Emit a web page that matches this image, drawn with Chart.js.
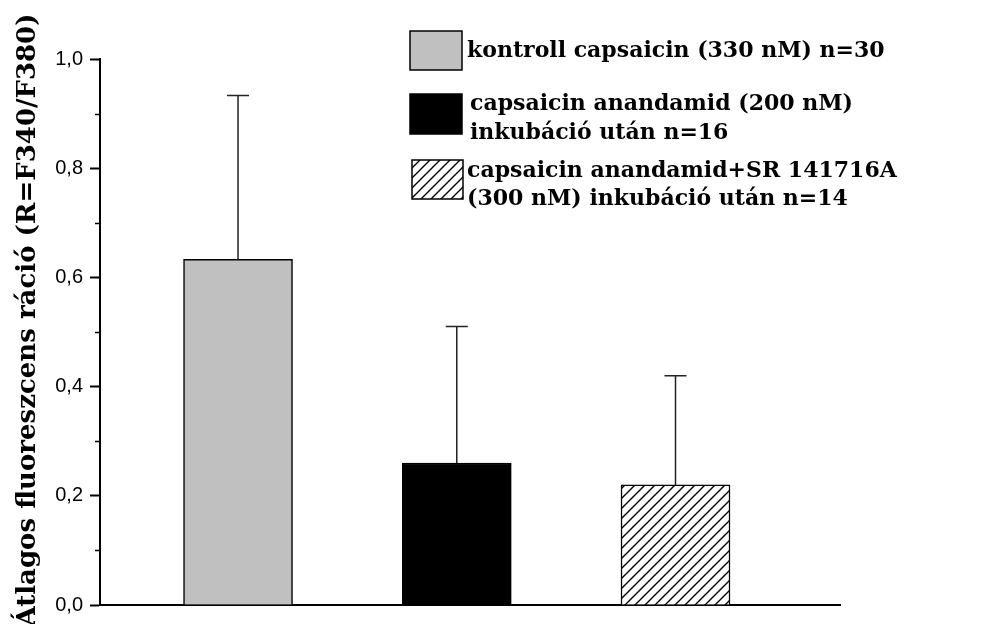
<!DOCTYPE html>
<html>
<head>
<meta charset="utf-8">
<script src="https://cdn.jsdelivr.net/npm/chart.js@4.4.1/dist/chart.umd.min.js"></script>
<style>
  html, body { margin: 0; padding: 0; background: #ffffff; }
  #wrap { width: 986px; height: 624px; }
</style>
</head>
<body>
<div id="wrap"><canvas id="c" width="986" height="624"></canvas></div>
<script>
// Groups (legend text, one entry per line of each label)
const groupLabels = [
  ['kontroll capsaicin (330 nM) n=30'],
  ['capsaicin anandamid (200 nM)', 'inkubáció után n=16'],
  ['capsaicin anandamid+SR 141716A', '(300 nM) inkubáció után n=14']
];
// Bar positions on the x axis
const groupPositions = [1, 2, 3];
// Mean fluorescence ratio and standard deviation (upper error bar)
const meanRatio = [0.633, 0.26, 0.22];
const sdRatio = [0.30, 0.25, 0.20];
// Y axis tick values and labels
const majorTicks = [0, 0.2, 0.4, 0.6, 0.8, 1.0];
const majorTickLabels = ['0,0', '0,2', '0,4', '0,6', '0,8', '1,0'];
const minorTicks = [0.1, 0.3, 0.5, 0.7, 0.9];
const yTitle = 'Átlagos fluoreszcens ráció (R=F340/F380)';

// Diagonal hatch fill for the third group
function makeHatch(step) {
  const p = document.createElement('canvas');
  p.width = step; p.height = step;
  const g = p.getContext('2d');
  g.fillStyle = '#ffffff';
  g.fillRect(0, 0, step, step);
  g.strokeStyle = '#000000';
  g.lineWidth = 1.4;
  g.beginPath();
  g.moveTo(-1, step + 1); g.lineTo(step + 1, -1);
  g.moveTo(-1, 1); g.lineTo(1, -1);
  g.moveTo(step - 1, step + 1); g.lineTo(step + 1, step - 1);
  g.stroke();
  return g.createPattern(p, 'repeat');
}
const ctx = document.getElementById('c').getContext('2d');
const hatch = makeHatch(10);
const fills = ['#c0c0c0', '#000000', hatch];

// Upper error bars with caps
const errorBars = {
  id: 'errorBars',
  afterDatasetsDraw(chart) {
    const meta = chart.getDatasetMeta(0);
    const ys = chart.scales.y;
    const c = chart.ctx;
    c.save();
    c.strokeStyle = '#222222';
    c.lineWidth = 1.5;
    meta.data.forEach((bar, i) => {
      const x = bar.x;
      const y0 = ys.getPixelForValue(meanRatio[i]);
      const y1 = ys.getPixelForValue(meanRatio[i] + sdRatio[i]);
      c.beginPath();
      c.moveTo(x, y0); c.lineTo(x, y1);
      c.moveTo(x - 11, y1); c.lineTo(x + 11, y1);
      c.stroke();
    });
    c.restore();
  }
};

// Short minor ticks on the y axis
const minorTickMarks = {
  id: 'minorTickMarks',
  afterDraw(chart) {
    const ys = chart.scales.y;
    const c = chart.ctx;
    const x = chart.chartArea.left;
    c.save();
    c.strokeStyle = '#000000';
    c.lineWidth = 1.5;
    minorTicks.forEach(v => {
      const y = Math.round(ys.getPixelForValue(v)) + 0.5;
      c.beginPath();
      c.moveTo(x - 5, y); c.lineTo(x, y);
      c.stroke();
    });
    c.restore();
  }
};

// Rotated y axis title
const axisTitle = {
  id: 'axisTitle',
  afterDraw(chart) {
    const c = chart.ctx;
    c.save();
    c.translate(35, 320);
    c.rotate(-Math.PI / 2);
    c.font = 'bold 26px "DejaVu Serif"';
    c.fillStyle = '#000000';
    c.textAlign = 'center';
    c.textBaseline = 'alphabetic';
    c.fillText(yTitle, 0, 0);
    c.restore();
  }
};

// Legend boxes with multi-line labels
const boxLegend = {
  id: 'boxLegend',
  afterDraw(chart) {
    const c = chart.ctx;
    const items = [
      { box: [410, 31, 52, 39], textX: 467, textY: [51] },
      { box: [410, 94, 52, 40], textX: 470, textY: [104, 133] },
      { box: [412, 160, 51, 39], textX: 467, textY: [171, 199] }
    ];
    c.save();
    items.forEach((it, i) => {
      const [bx, by, bw, bh] = it.box;
      c.fillStyle = fills[i];
      c.fillRect(bx, by, bw, bh);
      c.strokeStyle = '#000000';
      c.lineWidth = 1.5;
      c.strokeRect(bx, by, bw, bh);
      c.fillStyle = '#000000';
      c.font = 'bold 22px "DejaVu Serif"';
      c.textAlign = 'left';
      c.textBaseline = 'middle';
      groupLabels[i].forEach((line, j) => c.fillText(line, it.textX, it.textY[j]));
    });
    c.restore();
  }
};

new Chart(ctx, {
  type: 'bar',
  data: {
    datasets: [{
      data: groupPositions.map((x, i) => ({ x: x, y: meanRatio[i] })),
      backgroundColor: fills,
      borderColor: '#000000',
      borderWidth: 1.5,
      barThickness: 109
    }]
  },
  options: {
    responsive: false,
    animation: false,
    devicePixelRatio: 1,
    layout: { padding: { left: 0, top: 59, right: 146, bottom: 17 } },
    plugins: { legend: { display: false }, tooltip: { enabled: false } },
    scales: {
      x: {
        type: 'linear',
        min: 0.369,
        max: 3.752,
        offset: false,
        ticks: { display: false },
        grid: { display: false },
        border: { display: true, color: '#000000', width: 2 },
        afterFit: s => { s.height = 0; }
      },
      y: {
        min: 0,
        max: 1,
        afterBuildTicks: s => { s.ticks = majorTicks.map(v => ({ value: v })); },
        ticks: {
          callback: (v, i) => majorTickLabels[i],
          color: '#000000',
          font: { family: '"Liberation Sans", Arial, sans-serif', size: 20 },
          padding: 7
        },
        grid: {
          display: true,
          drawOnChartArea: false,
          drawTicks: true,
          tickLength: 10,
          tickWidth: 2,
          tickColor: '#000000'
        },
        border: { display: true, color: '#000000', width: 2 },
        afterFit: s => { s.width = 100; }
      }
    }
  },
  plugins: [errorBars, minorTickMarks, axisTitle, boxLegend]
});
</script>
</body>
</html>
